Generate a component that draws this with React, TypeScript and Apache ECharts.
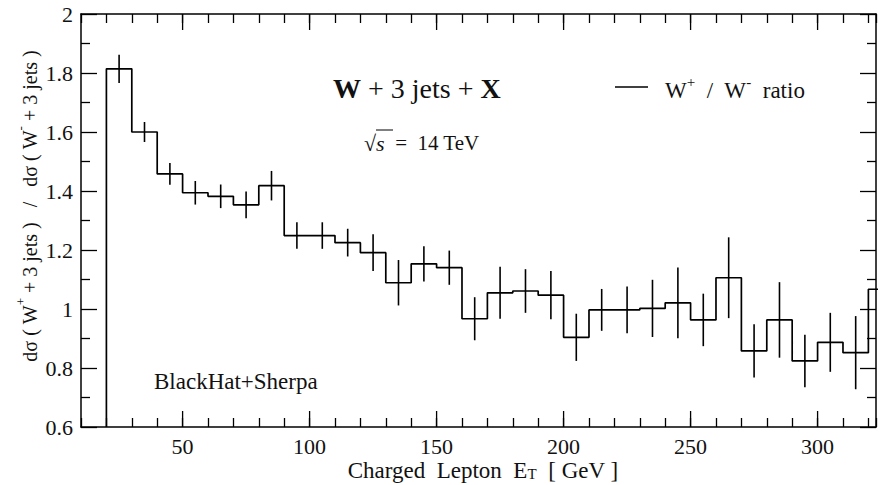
import React, { useEffect, useRef } from "react";
import * as echarts from "echarts";

// Bin lower edges (GeV), 10 GeV wide bins
const binLow = [20, 30, 40, 50, 60, 70, 80, 90, 100, 110, 120, 130, 140, 150, 160, 170, 180, 190, 200, 210, 220, 230, 240, 250, 260, 270, 280, 290, 300, 310, 320];
const binWidth = 10;
// W+ / W- ratio per bin
const ratio = [1.814, 1.6, 1.458, 1.394, 1.382, 1.353, 1.418, 1.249, 1.249, 1.225, 1.191, 1.089, 1.153, 1.14, 0.967, 1.055, 1.061, 1.047, 0.904, 0.997, 0.997, 1.002, 1.021, 0.963, 1.106, 0.858, 0.963, 0.824, 0.887, 0.852, 1.067];
// Statistical uncertainty per bin
const ratioErr = [0.048, 0.034, 0.037, 0.04, 0.04, 0.045, 0.05, 0.045, 0.045, 0.047, 0.062, 0.077, 0.06, 0.058, 0.073, 0.088, 0.074, 0.082, 0.08, 0.071, 0.079, 0.097, 0.12, 0.089, 0.137, 0.09, 0.128, 0.089, 0.1, 0.124, 0.1];
// Major tick positions on x axis (labelled)
const xMajorTicks = [50, 100, 150, 200, 250, 300];

const X_MIN = 10;
const X_MAX = 323;
const Y_MIN = 0.6;
const Y_MAX = 2;

const FONT = "'Liberation Serif', 'Times New Roman', serif";
const INK = "#111";

export default function App() {
  const ref = useRef<HTMLDivElement>(null);

  useEffect(() => {
    if (!ref.current) return;
    const chart = echarts.init(ref.current, null, { renderer: "svg" });

    const stepData: [number, number][] = [[binLow[0], Y_MIN]];
    binLow.forEach((x, i) => stepData.push([x, ratio[i]]));
    stepData.push([binLow[binLow.length - 1] + binWidth, ratio[ratio.length - 1]]);

    const errData = binLow.map((x, i) => [x + binWidth / 2, ratio[i], ratioErr[i]]);
    const majorData = xMajorTicks.map((v) => [v, Y_MIN]);

    const axisLineStyle = { color: "#000", width: 1.5 };
    const tickStyle = { color: "#000", width: 1.3 };

    const xAxisBase = {
      type: "value" as const,
      min: X_MIN,
      max: X_MAX,
      interval: 10,
      axisLine: { show: true, lineStyle: axisLineStyle },
      axisTick: { show: true, inside: true, length: 9, lineStyle: tickStyle },
      splitLine: { show: false },
    };
    const yAxisBase = {
      type: "value" as const,
      min: Y_MIN,
      max: Y_MAX,
      interval: 0.2,
      axisLine: { show: true, lineStyle: axisLineStyle },
      axisTick: { show: true, inside: true, length: 16, lineStyle: tickStyle },
      minorTick: { show: true, splitNumber: 2, length: 9, lineStyle: tickStyle },
      splitLine: { show: false },
      minorSplitLine: { show: false },
    };

    chart.setOption({
      animation: false,
      backgroundColor: "#fff",
      grid: { left: 81, right: 1, top: 14, bottom: 58, containLabel: false },
      xAxis: [
        {
          ...xAxisBase,
          position: "bottom",
          axisLabel: {
            show: true,
            margin: 8,
            fontSize: 22,
            lineHeight: 22,
            fontFamily: FONT,
            color: INK,
            formatter: (v: number) => (Math.round(v) % 50 === 0 ? String(Math.round(v)) : ""),
          },
        },
        { ...xAxisBase, position: "top", axisLabel: { show: false } },
      ],
      yAxis: [
        {
          ...yAxisBase,
          position: "left",
          axisLabel: { show: true, margin: 8, fontSize: 22, fontFamily: FONT, color: INK },
        },
        { ...yAxisBase, position: "right", axisLabel: { show: false } },
      ],
      series: [
        {
          type: "line",
          step: "end",
          data: stepData,
          xAxisIndex: 0,
          yAxisIndex: 0,
          showSymbol: false,
          symbol: "none",
          clip: true,
          lineStyle: { color: "#000", width: 1.7 },
          silent: true,
        },
        {
          type: "custom",
          xAxisIndex: 0,
          yAxisIndex: 0,
          data: errData,
          encode: { x: 0, y: 1 },
          clip: true,
          silent: true,
          renderItem: (_params: any, api: any) => {
            const xc = api.value(0);
            const v = api.value(1);
            const e = api.value(2);
            const p1 = api.coord([xc, v - e]);
            const p2 = api.coord([xc, v + e]);
            return {
              type: "line",
              shape: { x1: p1[0], y1: p1[1], x2: p2[0], y2: p2[1] },
              style: { stroke: "#000", lineWidth: 1.6 },
            };
          },
        },
        {
          type: "custom",
          xAxisIndex: 0,
          yAxisIndex: 0,
          data: majorData,
          encode: { x: 0, y: 1 },
          clip: false,
          silent: true,
          renderItem: (_params: any, api: any) => {
            const xv = api.value(0);
            const pb = api.coord([xv, Y_MIN]);
            const pt = api.coord([xv, Y_MAX]);
            return {
              type: "group",
              children: [
                { type: "line", shape: { x1: pb[0], y1: pb[1], x2: pb[0], y2: pb[1] - 16 }, style: { stroke: "#000", lineWidth: 1.3 } },
                { type: "line", shape: { x1: pt[0], y1: pt[1], x2: pt[0], y2: pt[1] + 16 }, style: { stroke: "#000", lineWidth: 1.3 } },
              ],
            };
          },
        },
      ],
      graphic: [
        {
          type: "text",
          x: 333,
          y: 88,
          style: {
            text: "{b|W} + 3 jets + {b|X}",
            fontSize: 28,
            fontFamily: FONT,
            fill: INK,
            verticalAlign: "middle",
            rich: { b: { fontSize: 28, fontFamily: FONT, fontWeight: "bold", fill: INK } },
          },
        },
        {
          type: "line",
          shape: { x1: 615, y1: 87, x2: 648, y2: 87 },
          style: { stroke: "#000", lineWidth: 1.6 },
        },
        {
          type: "text",
          x: 665,
          y: 88,
          style: {
            text: "{n|W}{s|+}{n|  /  W}{s|-}{n|  ratio}",
            fontSize: 23,
            fontFamily: FONT,
            fill: INK,
            verticalAlign: "middle",
            rich: {
              n: { fontSize: 23, fontFamily: FONT, fill: INK, lineHeight: 28, verticalAlign: "bottom" },
              s: { fontSize: 15, fontFamily: FONT, fill: INK, lineHeight: 28, verticalAlign: "top" },
            },
          },
        },
        {
          type: "text",
          x: 364,
          y: 143,
          style: {
            text: "{r|√}{i|s}  =  14 TeV",
            fontSize: 21,
            fontFamily: FONT,
            fill: INK,
            verticalAlign: "middle",
            rich: {
              r: { fontSize: 22, fontFamily: FONT, fill: INK },
              i: { fontSize: 22, fontFamily: FONT, fontStyle: "italic", fill: INK },
            },
          },
        },
        {
          type: "line",
          shape: { x1: 376, y1: 130, x2: 393, y2: 130 },
          style: { stroke: "#000", lineWidth: 1 },
        },
        {
          type: "text",
          x: 154,
          y: 381,
          style: { text: "BlackHat+Sherpa", fontSize: 23, fontFamily: FONT, fill: INK, verticalAlign: "middle" },
        },
        {
          type: "text",
          x: 483,
          y: 470,
          style: {
            text: "{n|Charged  Lepton  E}{t|T}{n|  [ GeV ]}",
            fontSize: 23,
            fontFamily: FONT,
            fill: INK,
            align: "center",
            verticalAlign: "middle",
            rich: {
              n: { fontSize: 23, fontFamily: FONT, fill: INK, lineHeight: 23, verticalAlign: "top" },
              t: { fontSize: 15, fontFamily: FONT, fill: INK, lineHeight: 23, verticalAlign: "bottom" },
            },
          },
        },
        {
          type: "text",
          x: 27,
          y: 206,
          rotation: Math.PI / 2,
          style: {
            text: "{n|dσ ( W}{s|+}{n| + 3 jets )   /   dσ ( W}{s|-}{n| + 3 jets )}",
            fontSize: 20,
            fontFamily: FONT,
            fill: INK,
            align: "center",
            verticalAlign: "middle",
            rich: {
              n: { fontSize: 20, fontFamily: FONT, fill: INK, lineHeight: 26, verticalAlign: "bottom" },
              s: { fontSize: 13, fontFamily: FONT, fill: INK, lineHeight: 26, verticalAlign: "top" },
            },
          },
        },
      ],
    });

    return () => {
      chart.dispose();
    };
  }, []);

  return (
    <div
      ref={ref}
      style={{ position: "fixed", left: 0, top: 0, width: 879, height: 485, background: "#fff" }}
    />
  );
}
